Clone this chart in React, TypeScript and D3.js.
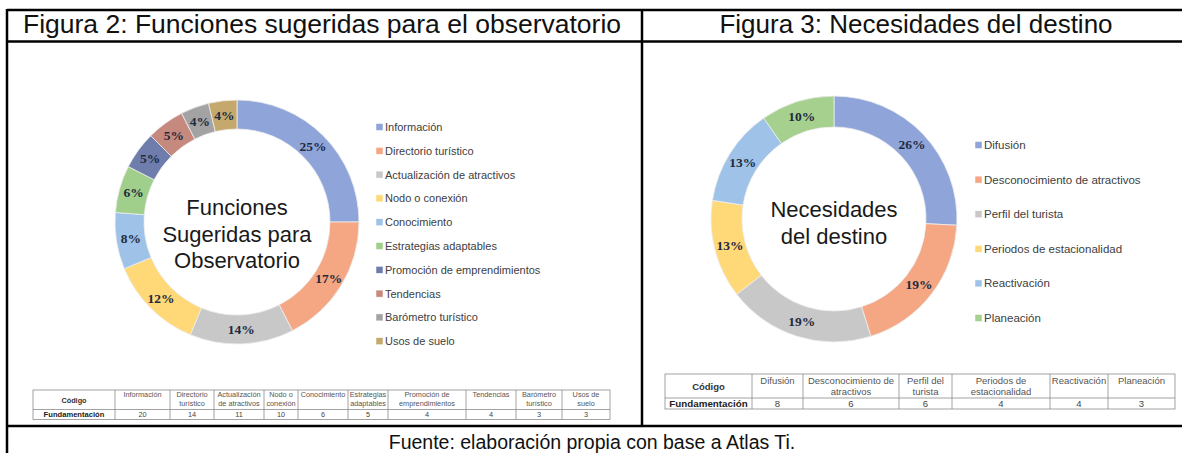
import * as d3 from "d3";

// Figura 2 data
const funciones = [
  "Información",
  "Directorio turístico",
  "Actualización de atractivos",
  "Nodo o conexión",
  "Conocimiento",
  "Estrategias adaptables",
  "Promoción de emprendimientos",
  "Tendencias",
  "Barómetro turístico",
  "Usos de suelo",
];
const funcionesCount = [20, 14, 11, 10, 6, 5, 4, 4, 3, 3];
const funcionesPct = ["25%", "17%", "14%", "12%", "8%", "6%", "5%", "5%", "4%", "4%"];
const funcionesHead = [
  ["Información"],
  ["Directorio", "turístico"],
  ["Actualización", "de atractivos"],
  ["Nodo o", "conexión"],
  ["Conocimiento"],
  ["Estrategias", "adaptables"],
  ["Promoción de", "emprendimientos"],
  ["Tendencias"],
  ["Barómetro", "turístico"],
  ["Usos de", "suelo"],
];
const funcionesColors = [
  "#8fa5da", "#f5a784", "#c8c8c8", "#ffd878", "#9fc3e8",
  "#9fcf8a", "#6f7dac", "#c6897d", "#a3a3a3", "#c5a96c",
];

// Figura 3 data
const necesidades = [
  "Difusión",
  "Desconocimiento de atractivos",
  "Perfil del turista",
  "Periodos de estacionalidad",
  "Reactivación",
  "Planeación",
];
const necesidadesCount = [8, 6, 6, 4, 4, 3];
const necesidadesPct = ["26%", "19%", "19%", "13%", "13%", "10%"];
const necesidadesHead = [
  ["Difusión"],
  ["Desconocimiento de", "atractivos"],
  ["Perfil del", "turista"],
  ["Periodos de", "estacionalidad"],
  ["Reactivación"],
  ["Planeación"],
];
const necesidadesColors = ["#8fa5da", "#f5a784", "#c8c8c8", "#ffd878", "#9fc3e8", "#a5d08e"];

const SANS = "'Liberation Sans', Arial, sans-serif";
const SERIF = "'Liberation Serif', 'Times New Roman', serif";

type DonutProps = {
  cx: number;
  cy: number;
  r: number;
  inner: number;
  values: number[];
  colors: string[];
  pct: string[];
  title: string[];
  titleY: number;
};

const Donut = ({ cx, cy, r, inner, values, colors, pct, title, titleY }: DonutProps) => {
  const pie = d3.pie<number>().sort(null).value((d) => d);
  const arcs = pie(values);
  const arc = d3.arc<d3.PieArcDatum<number>>().innerRadius(inner).outerRadius(r);
  const mid = d3.arc<d3.PieArcDatum<number>>().innerRadius((r + inner) / 2).outerRadius((r + inner) / 2);
  return (
    <g transform={`translate(${cx},${cy})`}>
      {arcs.map((a, i) => (
        <path key={i} d={arc(a) || ""} fill={colors[i]} stroke="#eeeeee" strokeWidth={0.8} />
      ))}
      {arcs.map((a, i) => {
        const [x, y] = mid.centroid(a);
        return (
          <text key={i} x={x} y={y + 4.5} textAnchor="middle" fontFamily={SERIF}
            fontWeight="bold" fontSize={13.5} fill="#1e2a40">
            {pct[i]}
          </text>
        );
      })}
      {title.map((t, i) => (
        <text key={i} x={0} y={titleY + i * 26.5} textAnchor="middle" fontFamily={SANS}
          fontSize={22} fill="#1a1a1a">
          {t}
        </text>
      ))}
    </g>
  );
};

type LegendProps = { x: number; y0: number; step: number; names: string[]; colors: string[]; size: number };

const Legend = ({ x, y0, step, names, colors, size }: LegendProps) => {
  const y = d3.scalePoint<string>().domain(names).range([y0, y0 + step * (names.length - 1)]);
  return (
    <g>
      {names.map((n, i) => (
        <g key={n} transform={`translate(${x},${y(n)})`}>
          <rect x={0} y={-3.5} width={7} height={7} fill={colors[i]} stroke="#ffffff" strokeWidth={0.5} />
          <text x={9} y={4} fontFamily={SANS} fontSize={size} fill="#404040">
            {n}
          </text>
        </g>
      ))}
    </g>
  );
};

type TableProps = {
  x0: number;
  widths: number[];
  top: number;
  mid: number;
  bottom: number;
  head: string[][];
  counts: number[];
  fs: number;
  lineH: number;
  firstW: number;
};

const Table = ({ x0, widths, top, mid, bottom, head, counts, fs, lineH, firstW }: TableProps) => {
  const edges = [x0, x0 + firstW];
  widths.forEach((w) => edges.push(edges[edges.length - 1] + w));
  const right = edges[edges.length - 1];
  return (
    <g fontFamily={SANS}>
      <rect x={x0} y={top} width={right - x0} height={bottom - top} fill="#fff" stroke="#8c8c8c" strokeWidth={0.8} />
      <line x1={x0} x2={right} y1={mid} y2={mid} stroke="#8c8c8c" strokeWidth={0.8} />
      {edges.slice(1, -1).map((e, i) => (
        <line key={i} x1={e} x2={e} y1={top} y2={bottom} stroke="#8c8c8c" strokeWidth={0.8} />
      ))}
      <text x={x0 + firstW / 2} y={(top + mid) / 2 + fs * 0.38} textAnchor="middle" fontSize={fs}
        fontWeight="bold" fill="#333">
        Código
      </text>
      <text x={x0 + firstW / 2} y={(mid + bottom) / 2 + fs * 0.38} textAnchor="middle" fontSize={fs + 0.3}
        fontWeight="bold" fill="#222">
        Fundamentación
      </text>
      {head.map((lines, i) => {
        const cx = (edges[i + 1] + edges[i + 2]) / 2;
        return (
          <g key={i}>
            {lines.map((l, j) => (
              <text key={j} x={cx} y={top + lineH * (j + 1) - 1.5} textAnchor="middle" fontSize={fs} fill="#555">
                {l}
              </text>
            ))}
            <text x={cx} y={(mid + bottom) / 2 + fs * 0.38} textAnchor="middle" fontSize={fs} fill="#444">
              {counts[i]}
            </text>
          </g>
        );
      })}
    </g>
  );
};

export default function App() {
  return (
    <svg width={1182} height={453} style={{ position: "absolute", left: 0, top: 0, background: "#fff" }}>
      <rect width={1182} height={453} fill="#fff" />

      {/* frame */}
      <g stroke="#000" strokeWidth={2.5}>
        <line x1={7} x2={1182} y1={10} y2={10} />
        <line x1={7} x2={1182} y1={41.5} y2={41.5} />
        <line x1={7} x2={1182} y1={426} y2={426} />
        <line x1={7} x2={7} y1={9} y2={453} />
        <line x1={642} x2={642} y1={9} y2={426} />
      </g>

      <g fontFamily={SANS} fill="#111">
        <text x={322} y={33} textAnchor="middle" fontSize={26} textLength={598} lengthAdjust="spacingAndGlyphs">
          Figura 2: Funciones sugeridas para el observatorio
        </text>
        <text x={916} y={33} textAnchor="middle" fontSize={26}>
          Figura 3: Necesidades del destino
        </text>
        <text x={592} y={449} textAnchor="middle" fontSize={19.5}>
          Fuente: elaboración propia con base a Atlas Ti.
        </text>
      </g>

      <Donut cx={237} cy={222} r={122} inner={93} values={funcionesCount} colors={funcionesColors}
        pct={funcionesPct} title={["Funciones", "Sugeridas para", "Observatorio"]} titleY={-7} />
      <Legend x={376} y0={127} step={23.8} names={funciones} colors={funcionesColors} size={11} />
      <Table x0={33} firstW={82} widths={[55, 44, 50, 34, 50, 40, 78, 50, 46, 48]} top={390} mid={409.5}
        bottom={419.5} head={funcionesHead} counts={funcionesCount} fs={7.3} lineH={8.5} />

      <Donut cx={834} cy={219} r={123} inner={92} values={necesidadesCount} colors={necesidadesColors}
        pct={necesidadesPct} title={["Necesidades", "del destino"]} titleY={-2} />
      <Legend x={975} y0={145} step={34.6} names={necesidades} colors={necesidadesColors} size={11.5} />
      <Table x0={665} firstW={87} widths={[51, 96, 53, 98, 58, 67]} top={374} mid={398} bottom={409}
        head={necesidadesHead} counts={necesidadesCount} fs={9.5} lineH={11} />
    </svg>
  );
}
